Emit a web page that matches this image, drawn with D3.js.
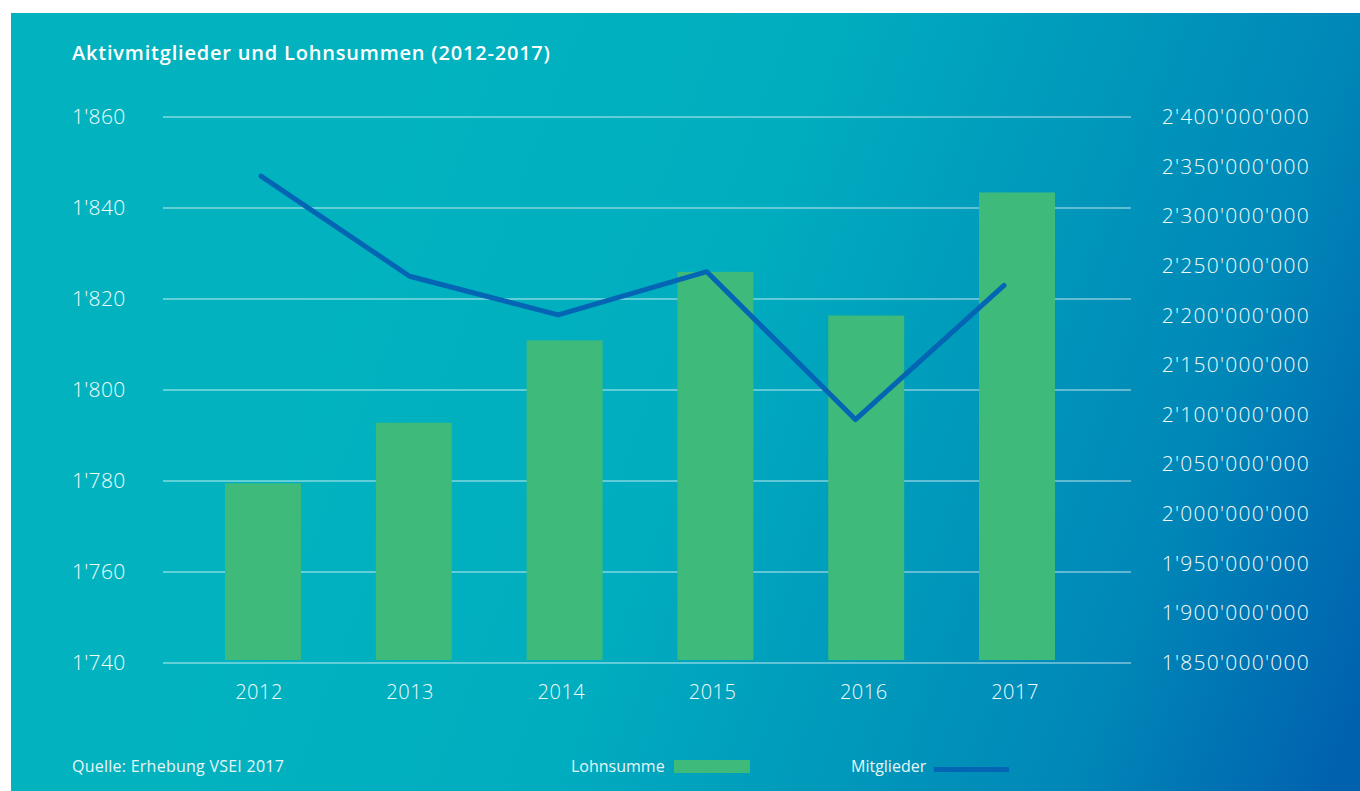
<!DOCTYPE html>
<html>
<head>
<meta charset="utf-8">
<script src="https://cdn.jsdelivr.net/npm/d3@7"></script>
<style>
  html, body { margin: 0; padding: 0; background: #fff; }
  svg { display: block; font-family: "Open Sans", sans-serif; }
</style>
</head>
<body>
<div id="chart"></div>
<script>
// Data
const years = ['2012', '2013', '2014', '2015', '2016', '2017'];
const lohnsumme = [2031000000, 2092000000, 2175000000, 2244000000, 2200000000, 2324000000];
const mitglieder = [1847, 1825, 1816.5, 1826, 1793.5, 1823];
const leftTicks = [1740, 1760, 1780, 1800, 1820, 1840, 1860];
const rightTicks = d3.range(1850000000, 2400000001, 50000000);

const width = 1360, height = 791;

const svg = d3.select('#chart')
  .append('svg')
  .attr('width', width)
  .attr('height', height);

// background panel with gradient
const defs = svg.append('defs');
const grad = defs.append('linearGradient')
  .attr('id', 'bg')
  .attr('gradientUnits', 'userSpaceOnUse')
  .attr('x1', 300).attr('y1', 300)
  .attr('x2', 1360).attr('y2', 700);
[[0, '#02b3bf'], [0.35, '#00adbf'], [0.78, '#0088b8'], [1, '#0062af']].forEach(([o, c]) => {
  grad.append('stop').attr('offset', o).attr('stop-color', c);
});

svg.append('rect')
  .attr('x', 11).attr('y', 13)
  .attr('width', width - 11).attr('height', height - 13)
  .attr('fill', 'url(#bg)');

// scales
const yLeft = d3.scaleLinear().domain([1740, 1860]).range([663, 117]);
const yRight = d3.scaleLinear().domain([1850000000, 2400000000]).range([663, 117]);
const xBar = d3.scalePoint().domain(years).range([263, 1017]);
const xLabel = d3.scalePoint().domain(years).range([259, 1015]);
const xLine = d3.scalePoint().domain(years).range([261, 1004]);
const barWidth = 76;

const fmt = v => d3.format(',')(v).replace(/,/g, "'");

// gridlines
svg.append('g')
  .selectAll('line')
  .data(leftTicks)
  .join('line')
    .attr('x1', 163).attr('x2', 1131)
    .attr('y1', d => yLeft(d)).attr('y2', d => yLeft(d))
    .attr('stroke', 'rgba(255,255,255,0.38)')
    .attr('stroke-width', 2);

// left axis labels
svg.append('g')
  .selectAll('text')
  .data(leftTicks)
  .join('text')
    .attr('x', 72)
    .attr('y', d => yLeft(d) + 7)
    .attr('fill', '#f2fbfc')
    .style('font-size', '21px')
    .style('font-weight', 300)
    .style('letter-spacing', '0.3px')
    .text(fmt);

// right axis labels
svg.append('g')
  .selectAll('text')
  .data(rightTicks)
  .join('text')
    .attr('x', 1310)
    .attr('y', d => yRight(d) + 7)
    .attr('text-anchor', 'end')
    .attr('fill', '#f2fbfc')
    .style('font-size', '21px')
    .style('font-weight', 300)
    .style('letter-spacing', '1.25px')
    .text(fmt);

// bars
svg.append('g')
  .selectAll('rect')
  .data(years)
  .join('rect')
    .attr('x', d => xBar(d) - barWidth / 2)
    .attr('width', barWidth)
    .attr('y', (d, i) => yRight(lohnsumme[i]))
    .attr('height', (d, i) => yRight(1850000000) - 3 - yRight(lohnsumme[i]))
    .attr('fill', '#3eba7b');

// line
const line = d3.line()
  .x(d => xLine(d.year))
  .y(d => yLeft(d.value));

svg.append('path')
  .datum(years.map((y, i) => ({ year: y, value: mitglieder[i] })))
  .attr('d', line)
  .attr('fill', 'none')
  .attr('stroke', '#0565b5')
  .attr('stroke-width', 5)
  .attr('stroke-linecap', 'round')
  .attr('stroke-linejoin', 'round');

// year labels
svg.append('g')
  .selectAll('text')
  .data(years)
  .join('text')
    .attr('x', d => xLabel(d))
    .attr('y', 699)
    .attr('text-anchor', 'middle')
    .attr('fill', '#f2fbfc')
    .style('font-size', '20px')
    .style('font-weight', 300)
    .style('letter-spacing', '0.5px')
    .text(d => d);

// title
svg.append('text')
  .attr('x', 72).attr('y', 60)
  .attr('fill', '#fff')
  .style('font-size', '20px')
  .style('font-weight', 600)
  .style('letter-spacing', '0.8px')
  .text('Aktivmitglieder und Lohnsummen (2012-2017)');

// source
svg.append('text')
  .attr('x', 72).attr('y', 772)
  .attr('fill', '#e6f6f8')
  .style('font-size', '16px')
  .style('letter-spacing', '0.25px')
  .text('Quelle: Erhebung VSEI 2017');

// legend
const legend = svg.append('g');
legend.append('text')
  .attr('x', 571).attr('y', 772)
  .attr('fill', '#e6f6f8')
  .style('font-size', '16px')
  .text('Lohnsumme');
legend.append('rect')
  .attr('x', 674).attr('y', 760)
  .attr('width', 76).attr('height', 13)
  .attr('fill', '#3eba7b');
legend.append('text')
  .attr('x', 851).attr('y', 772)
  .attr('fill', '#e6f6f8')
  .style('font-size', '16px')
  .text('Mitglieder');
legend.append('line')
  .attr('x1', 934).attr('x2', 1009)
  .attr('y1', 769.5).attr('y2', 769.5)
  .attr('stroke', '#0565b5')
  .attr('stroke-width', 5);
</script>
</body>
</html>
